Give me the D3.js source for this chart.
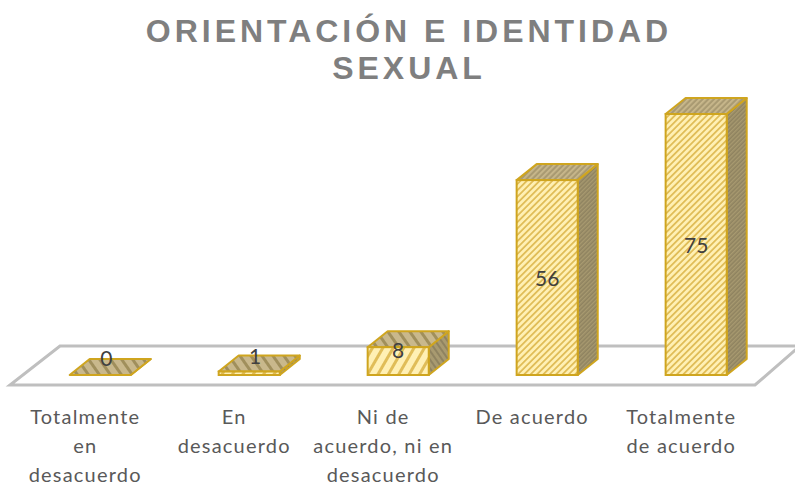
<!DOCTYPE html>
<html>
<head>
<meta charset="utf-8">
<script src="https://cdn.jsdelivr.net/npm/d3@7"></script>
<style>
  html, body { margin: 0; padding: 0; background: #fff; }
  svg { display: block; }
</style>
</head>
<body>
<div id="chart"></div>
<script>
// Chart data
const categories = ['Totalmente en desacuerdo', 'En desacuerdo', 'Ni de acuerdo, ni en desacuerdo', 'De acuerdo', 'Totalmente de acuerdo'];
const categoryLines = [['Totalmente', 'en', 'desacuerdo'], ['En', 'desacuerdo'], ['Ni de', 'acuerdo, ni en', 'desacuerdo'], ['De acuerdo'], ['Totalmente', 'de acuerdo']];
const values = [0, 1, 8, 56, 75];
const titleLines = ['ORIENTACIÓN E IDENTIDAD', 'SEXUAL'];

const width = 795;
const height = 483;
const depthX = 20;
const depthY = 16;
const baseY = 375;

const svg = d3.select('#chart')
  .append('svg')
  .attr('width', width)
  .attr('height', height);

const x = d3.scaleBand()
  .domain(categories)
  .range([-4.8, 801.2])
  .paddingInner(0.59)
  .paddingOuter(0.5);

const y = d3.scaleLinear()
  .domain([0, 75])
  .range([baseY, 114]);

// Hatch fills for the faces
const defs = svg.append('defs');
function hatch(id, size, angle, bg, fg, sw) {
  const p = defs.append('pattern')
    .attr('id', id)
    .attr('patternUnits', 'userSpaceOnUse')
    .attr('width', size)
    .attr('height', size)
    .attr('patternTransform', `rotate(${angle})`);
  p.append('rect').attr('width', size).attr('height', size).attr('fill', bg);
  p.append('rect').attr('width', sw).attr('height', size).attr('fill', fg);
}
hatch('front', 4.5, 45, '#fff0b4', '#e0bd58', 1.8);
hatch('frontWide', 9, 30, '#fff0b4', '#e0bd58', 3);
hatch('top', 4, 45, '#a99a72', '#c9b88c', 1.8);
hatch('topWide', 9, -35, '#c9b88c', '#a08f5c', 3);
hatch('side', 3, 45, '#8f8360', '#a89a70', 1.4);
hatch('sideWide', 5, -35, '#a89a70', '#8f8360', 2);

// Floor
svg.append('path')
  .attr('d', 'M10,385 L755,385 L800,346 L60,346 Z')
  .attr('fill', 'none')
  .attr('stroke', '#bfbfbf')
  .attr('stroke-width', 3);

// Bars
const bars = svg.selectAll('.bar')
  .data(values)
  .join('g')
  .attr('class', 'bar');

const edge = '#cfa51f';
bars.each(function(d, i) {
  const g = d3.select(this);
  const x0 = x(categories[i]);
  const x1 = x0 + x.bandwidth();
  const yt = y(d);
  const wide = d < 10 ? 'Wide' : '';
  g.append('path')
    .attr('d', `M${x1},${yt} L${x1 + depthX},${yt - depthY} L${x1 + depthX},${baseY - depthY} L${x1},${baseY} Z`)
    .attr('fill', `url(#side${wide})`).attr('stroke', edge).attr('stroke-width', 2).attr('stroke-linejoin', 'round');
  g.append('path')
    .attr('d', `M${x0},${yt} L${x0 + depthX},${yt - depthY} L${x1 + depthX},${yt - depthY} L${x1},${yt} Z`)
    .attr('fill', `url(#top${wide})`).attr('stroke', edge).attr('stroke-width', 2).attr('stroke-linejoin', 'round');
  g.append('rect')
    .attr('x', x0).attr('y', yt)
    .attr('width', x.bandwidth()).attr('height', baseY - yt)
    .attr('fill', `url(#front${wide})`).attr('stroke', edge).attr('stroke-width', 2);
});

// Value labels: the short bars have theirs pushed up onto the top face
bars.append('text')
  .attr('x', (d, i) => x(categories[i]) + x.bandwidth() / 2 + (d <= 1 ? 6 : 0))
  .attr('y', d => (y(d) + baseY) / 2 + 8.5 - (d <= 1 ? 18 : d < 10 ? 12 : 0))
  .attr('text-anchor', 'middle')
  .attr('font-family', 'Lato, sans-serif')
  .attr('font-size', 21)
  .attr('fill', '#404040')
  .text(d => d);

// Category labels (the last line runs right up to the bottom edge, as in the source)
svg.selectAll('.cat')
  .data(categoryLines)
  .join('text')
  .attr('class', 'cat')
  .attr('text-anchor', 'middle')
  .attr('font-family', 'Lato, sans-serif')
  .attr('font-size', 20)
  .attr('letter-spacing', 1.2)
  .attr('fill', '#595959')
  .each(function(lines, i) {
    d3.select(this).selectAll('tspan')
      .data(lines)
      .join('tspan')
      .attr('x', x(categories[i]) + x.bandwidth() / 2 - 15)
      .attr('y', (l, j) => 424 + j * 29)
      .text(l => l);
  });

// Title
svg.selectAll('.title')
  .data(titleLines)
  .join('text')
  .attr('class', 'title')
  .attr('x', 409)
  .attr('y', (d, i) => 42 + i * 37)
  .attr('text-anchor', 'middle')
  .attr('font-family', '"Liberation Sans", Arial, sans-serif')
  .attr('font-weight', 'bold')
  .attr('font-size', 32)
  .attr('letter-spacing', 3.97)
  .attr('fill', '#7f7f7f')
  .text(d => d);
</script>
</body>
</html>
